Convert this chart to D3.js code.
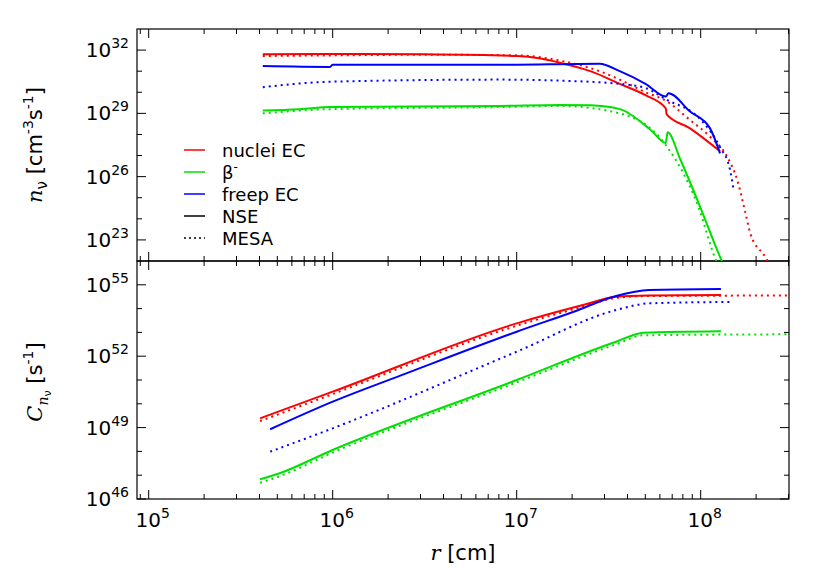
<!DOCTYPE html>
<html><head><meta charset="utf-8">
<script src="https://cdn.jsdelivr.net/npm/d3@7"></script>
<style>body{margin:0;background:#fff}text{font-family:"DejaVu Sans",sans-serif}</style>
</head><body><svg id="c" width="830" height="581"></svg>
<script>
// log10(r) and log10(value) pairs
var nNucNSE = [[5.62,31.8],[6.0,31.82],[6.5,31.8],[7.0,31.72],[7.13,31.6],[7.235,31.4],[7.4,31.0],[7.56,30.4],[7.7,29.86],[7.81,29.24],[7.815,28.95],[7.94,28.3],[8.105,27.2]]
var nNucMESA = [[5.62,31.72],[6.0,31.75],[6.5,31.78],[7.0,31.75],[7.235,31.5],[7.45,31.0],[7.56,30.6],[7.7,30.0],[7.81,29.6],[7.94,28.7],[8.05,27.9],[8.14,27.0],[8.2,25.8],[8.24,24.4],[8.27,23.3],[8.35,22.2],[8.37,21.9]]
var nBetaNSE = [[5.62,29.14],[5.82,29.2],[5.985,29.3],[6.91,29.35],[7.235,29.4],[7.4,29.38],[7.56,29.2],[7.73,28.2],[7.81,27.6],[7.82,28.1],[7.89,26.8],[8.0,24.5],[8.105,22.2],[8.12,21.9]]
var nBetaMESA = [[5.62,29.0],[5.985,29.2],[6.91,29.3],[7.235,29.35],[7.56,29.0],[7.81,27.5],[7.99,24.5],[8.08,22.1],[8.09,21.9]]
var nFreeNSE = [[5.62,31.24],[5.985,31.2],[6.0,31.3],[6.91,31.3],[7.45,31.35],[7.56,31.0],[7.7,30.4],[7.81,29.8],[7.825,29.95],[7.94,29.1],[8.05,28.3],[8.105,27.1]]
var nFreeMESA = [[5.62,30.24],[5.985,30.5],[6.91,30.6],[7.235,30.55],[7.56,30.4],[7.7,30.2],[7.81,29.67],[8.0,28.7],[8.105,27.4],[8.16,26.3],[8.18,25.3]]
var cNucNSE = [[5.605,49.39],[6.0,50.51],[7.0,53.38],[7.36,54.15],[7.54,54.5],[7.72,54.55],[8.11,54.57]]
var cNucMESA = [[5.605,49.27],[6.0,50.41],[7.0,53.28],[7.36,54.08],[7.54,54.45],[7.72,54.53],[8.49,54.55]]
var cFreeNSE = [[5.66,48.93],[6.0,50.09],[6.4,51.28],[7.0,53.03],[7.31,53.87],[7.54,54.53],[7.72,54.78],[8.11,54.82]]
var cFreeMESA = [[5.66,47.99],[6.0,48.97],[7.0,52.19],[7.54,53.94],[7.72,54.22],[8.16,54.28]]
var cBetaNSE = [[5.605,46.83],[5.7,47.05],[6.0,48.06],[7.0,51.0],[7.54,52.61],[7.69,52.99],[8.11,53.05]]
var cBetaMESA = [[5.605,46.68],[5.7,46.92],[6.0,47.95],[7.0,50.9],[7.54,52.5],[7.69,52.88],[8.49,52.92]]
var legendNames = ['nuclei EC', 'β-', 'freep EC', 'NSE', 'MESA']

var svg = d3.select('#c')
var x0 = 137; var x1 = 789
var x = d3.scaleLinear().domain([6 - 195.7 / 184, 6 + (x1 - 332.7) / 184]).range([x0, x1])
var yTop = d3.scaleLinear().domain([22, 33]).range([261, 29])
var yBot = d3.scaleLinear().domain([46, 56]).range([499, 261])

var minorX = []
for (var d = 4; d < 9; d++) for (var m = 1; m < 10; m++) {
  var v = d + Math.log10(m); if (v >= x.domain()[0] && v <= x.domain()[1]) minorX.push({ v: v, major: m === 1 })
}

function panel (y, lo, hi, top, bottom, labelX) {
  var g = svg.append('g')
  g.append('rect').attr('x', x0).attr('y', top).attr('width', x1 - x0).attr('height', bottom - top)
    .attr('fill', 'none').attr('stroke', '#000').attr('stroke-width', 1.2)
  minorX.forEach(function (t) {
    var L = t.major ? 9 : 5
    g.append('line').attr('x1', x(t.v)).attr('x2', x(t.v)).attr('y1', bottom).attr('y2', bottom - L).attr('stroke', '#000')
    g.append('line').attr('x1', x(t.v)).attr('x2', x(t.v)).attr('y1', top).attr('y2', top + L).attr('stroke', '#000')
  })
  for (var e = lo; e <= hi; e++) {
    var major = (e - lo) % 3 === 0; var L = major ? 9 : 5
    g.append('line').attr('x1', x0).attr('x2', x0 + L).attr('y1', y(e)).attr('y2', y(e)).attr('stroke', '#000')
    g.append('line').attr('x1', x1).attr('x2', x1 - L).attr('y1', y(e)).attr('y2', y(e)).attr('stroke', '#000')
    if (major) {
      var t = g.append('text').attr('x', x0 - 8).attr('y', y(e) + 7).attr('text-anchor', 'end').attr('font-size', 20)
      t.append('tspan').text('10')
      t.append('tspan').attr('dy', -9).attr('font-size', 14).text(e)
    }
  }
  if (labelX) {
    for (var k = 5; k <= 8; k++) {
      var t2 = svg.append('text').attr('x', x(k) + 4).attr('y', bottom + 28).attr('text-anchor', 'middle').attr('font-size', 20)
      t2.append('tspan').text('10')
      t2.append('tspan').attr('dy', -9).attr('font-size', 14).text(k)
    }
  }
}
panel(yTop, 23, 32, 29, 261, false)
panel(yBot, 46, 55, 261, 499, true)

svg.append('clipPath').attr('id', 'ct').append('rect').attr('x', x0).attr('y', 29).attr('width', x1 - x0).attr('height', 232)
svg.append('clipPath').attr('id', 'cb').append('rect').attr('x', x0).attr('y', 261).attr('width', x1 - x0).attr('height', 238)

function draw (data, y, color, dotted, clip) {
  svg.append('path').datum(data).attr('clip-path', 'url(#' + clip + ')')
    .attr('d', d3.line().curve(d3.curveMonotoneX).x(function (p) { return x(p[0]) }).y(function (p) { return y(p[1]) }))
    .attr('fill', 'none').attr('stroke', color).attr('stroke-width', 2)
    .attr('stroke-dasharray', dotted ? '2,4' : null)
}
var red = '#ff0000'; var green = '#00e000'; var blue = '#0000ff'
draw(nNucMESA, yTop, red, true, 'ct'); draw(nNucNSE, yTop, red, false, 'ct')
draw(nBetaMESA, yTop, green, true, 'ct'); draw(nBetaNSE, yTop, green, false, 'ct')
draw(nFreeMESA, yTop, blue, true, 'ct'); draw(nFreeNSE, yTop, blue, false, 'ct')
draw(cNucMESA, yBot, red, true, 'cb'); draw(cNucNSE, yBot, red, false, 'cb')
draw(cBetaMESA, yBot, green, true, 'cb'); draw(cBetaNSE, yBot, green, false, 'cb')
draw(cFreeMESA, yBot, blue, true, 'cb'); draw(cFreeNSE, yBot, blue, false, 'cb')

// legend
var legColors = [red, green, blue, '#000', '#000']
legendNames.forEach(function (n, i) {
  var ly = 150 + i * 22
  svg.append('line').attr('x1', 184).attr('x2', 205).attr('y1', ly).attr('y2', ly)
    .attr('stroke', legColors[i]).attr('stroke-width', 1.5).attr('stroke-dasharray', i === 4 ? '2,3' : null)
  var t = svg.append('text').attr('x', 222).attr('y', ly + 7).attr('font-size', 18)
  if (i === 1) { t.append('tspan').text('β'); t.append('tspan').attr('dy', -8).attr('font-size', 12).text('-') } else t.text(n)
})

// axis labels
var yl = svg.append('text').attr('transform', 'translate(42,145) rotate(-90)').attr('text-anchor', 'middle').attr('font-size', 21)
yl.append('tspan').attr('font-style', 'italic').attr('font-family', 'DejaVu Serif').text('n')
yl.append('tspan').attr('dy', 5).attr('font-size', 15).text('ν')
yl.append('tspan').attr('dy', -5).text(' [cm')
yl.append('tspan').attr('dy', -9).attr('font-size', 14).text('-3')
yl.append('tspan').attr('dy', 9).text('s')
yl.append('tspan').attr('dy', -9).attr('font-size', 14).text('-1')
yl.append('tspan').attr('dy', 9).text(']')

var yl2 = svg.append('text').attr('transform', 'translate(42,382) rotate(-90)').attr('text-anchor', 'middle').attr('font-size', 21)
yl2.append('tspan').attr('font-style', 'italic').attr('font-family', 'DejaVu Serif').text('C')
yl2.append('tspan').attr('dy', 6).attr('font-size', 14).attr('font-style', 'italic').attr('font-family', 'DejaVu Serif').text('n')
yl2.append('tspan').attr('dy', 3).attr('font-size', 11).text('ν')
yl2.append('tspan').attr('dy', -9).text(' [s')
yl2.append('tspan').attr('dy', -9).attr('font-size', 14).text('-1')
yl2.append('tspan').attr('dy', 9).text(']')

var xl = svg.append('text').attr('x', 463).attr('y', 560).attr('text-anchor', 'middle').attr('font-size', 21)
xl.append('tspan').attr('font-style', 'italic').attr('font-family', 'DejaVu Serif').text('r')
xl.append('tspan').text(' [cm]')
</script></body></html>
